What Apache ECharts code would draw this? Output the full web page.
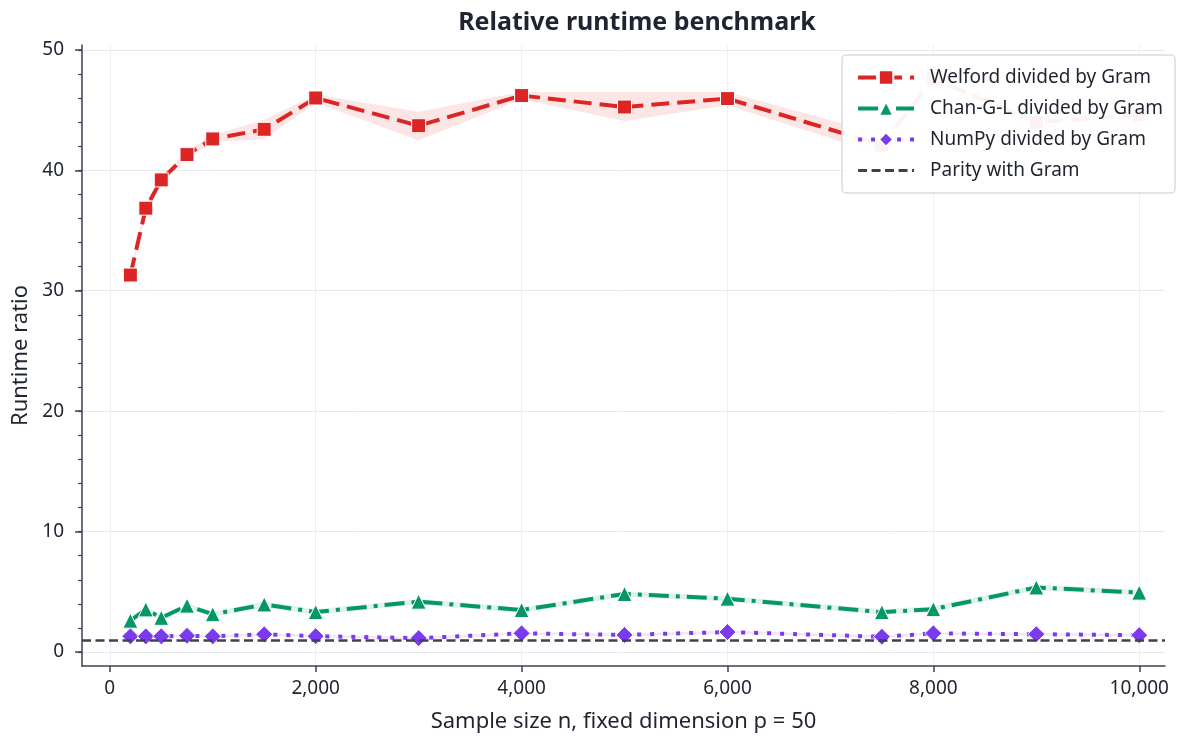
<!DOCTYPE html>
<html>
<head>
<meta charset="utf-8">
<script src="https://cdn.jsdelivr.net/npm/echarts@6/dist/echarts.min.js"></script>
<style>
  html, body { margin: 0; padding: 0; background: #ffffff; }
  #chart { width: 1179px; height: 738px; }
</style>
</head>
<body>
<div id="chart"></div>
<script>
// Sample sizes n (p = 50 fixed)
const sampleSizes = [200, 350, 500, 750, 1000, 1500, 2000, 3000, 4000, 5000, 6000, 7500, 8000, 9000, 10000];

// Runtime ratios relative to the Gram approach, with spread bands
const welford   = [31.3, 36.85, 39.2, 41.3, 42.6, 43.4, 46.0, 43.7, 46.2, 45.25, 45.95, 42.1, 47.6, 44.0, 44.6];
const welfordLo = [31.0, 36.5, 38.9, 41.0, 42.3, 42.6, 45.6, 42.5, 45.9, 44.1, 45.4, 41.3, 47.0, 43.3, 43.9];
const welfordHi = [31.6, 37.2, 39.5, 41.6, 42.9, 44.2, 46.3, 44.85, 46.5, 46.5, 46.5, 43.0, 48.3, 44.8, 45.3];

const chan   = [2.6, 3.54, 2.84, 3.85, 3.14, 3.95, 3.32, 4.18, 3.49, 4.82, 4.43, 3.31, 3.56, 5.36, 4.93];
const chanLo = [2.4, 3.3, 2.6, 3.6, 2.9, 3.7, 3.1, 3.95, 3.25, 4.6, 4.2, 3.1, 3.35, 5.1, 4.7];
const chanHi = [2.8, 3.75, 3.05, 4.05, 3.35, 4.2, 3.55, 4.4, 3.7, 5.05, 4.65, 3.55, 3.8, 5.6, 5.15];

const numpy   = [1.3, 1.3, 1.3, 1.35, 1.3, 1.47, 1.32, 1.15, 1.55, 1.42, 1.66, 1.27, 1.55, 1.48, 1.4];
const numpyLo = [1.2, 1.2, 1.2, 1.25, 1.2, 1.35, 1.22, 1.05, 1.45, 1.32, 1.54, 1.17, 1.45, 1.38, 1.3];
const numpyHi = [1.4, 1.4, 1.4, 1.45, 1.4, 1.58, 1.42, 1.25, 1.65, 1.52, 1.78, 1.37, 1.65, 1.58, 1.5];

const parity = 1;

const xTicks = [0, 2000, 4000, 6000, 8000, 10000];
const yTicks = [0, 10, 20, 30, 40, 50];
const yMinorTicks = [0, 2, 4, 6, 8, 10, 12, 14, 16, 18, 20, 22, 24, 26, 28, 30, 32, 34, 36, 38, 40, 42, 44, 46, 48, 50];

const seriesNames = ['Welford divided by Gram', 'Chan-G-L divided by Gram', 'NumPy divided by Gram', 'Parity with Gram'];

const FONT = '"Noto Sans", "Open Sans", sans-serif';
const RED = '#dc2626', GREEN = '#059669', PURPLE = '#7c3aed', SLATE = '#3d4250';
const INK = '#1f2430', AXIS = '#3a4152';

const pairs = (ys) => sampleSizes.map((x, i) => [x, ys[i]]);

// Shaded spread band drawn as a single polygon through the axis scales
function band(name, lo, hi, color, opacity) {
  return {
    type: 'custom',
    name: name,
    silent: true,
    z: 1,
    data: sampleSizes.map((x, i) => [x, lo[i], hi[i]]),
    encode: { x: 0, y: [1, 2] },
    renderItem: function (params, api) {
      if (params.dataIndex !== 0) return null;
      const pts = [];
      for (let i = 0; i < sampleSizes.length; i++) pts.push(api.coord([sampleSizes[i], hi[i]]));
      for (let i = sampleSizes.length - 1; i >= 0; i--) pts.push(api.coord([sampleSizes[i], lo[i]]));
      return { type: 'polygon', shape: { points: pts }, style: { fill: color, opacity: opacity } };
    }
  };
}

function lineSeries(name, ys, color, symbol, size, dash) {
  return {
    type: 'line',
    name: name,
    data: pairs(ys),
    z: 3,
    symbol: symbol,
    symbolSize: size,
    showAllSymbol: true,
    lineStyle: { color: color, width: 4, type: dash, cap: 'butt' },
    itemStyle: { color: color, borderColor: '#ffffff', borderWidth: 1, opacity: 1 },
    emphasis: { disabled: true }
  };
}

const chart = echarts.init(document.getElementById('chart'), null, { renderer: 'canvas' });

chart.setOption({
  animation: false,
  backgroundColor: '#ffffff',
  title: {
    text: 'Relative runtime benchmark',
    left: 632,
    top: 5,
    textAlign: 'center',
    textStyle: { fontFamily: FONT, fontSize: 25, fontWeight: 'bold', color: INK }
  },
  grid: { left: 82, right: 14, top: 45, bottom: 72, containLabel: false },
  legend: {
    data: [
      { name: seriesNames[0], lineStyle: { width: 4 } },
      { name: seriesNames[1], lineStyle: { width: 4 } },
      { name: seriesNames[2], lineStyle: { width: 4 } },
      { name: seriesNames[3], lineStyle: { width: 3 }, itemStyle: { color: 'rgba(0,0,0,0)', borderWidth: 0, opacity: 0 } }
    ],
    right: 4,
    top: 55,
    orient: 'vertical',
    align: 'left',
    itemWidth: 56,
    itemHeight: 18,
    itemGap: 12,
    padding: [13, 12, 13, 14],
    backgroundColor: 'rgba(255,255,255,0.94)',
    borderColor: '#d9dbe0',
    borderWidth: 1.5,
    borderRadius: 4,
    textStyle: { fontFamily: FONT, fontSize: 19, color: INK, padding: [0, 0, 0, 11] }
  },
  xAxis: {
    type: 'value',
    min: -270,
    max: 10250,
    name: 'Sample size n, fixed dimension p = 50',
    nameLocation: 'middle',
    nameGap: 45,
    nameTextStyle: { fontFamily: FONT, fontSize: 22, color: INK },
    axisLine: { show: true, onZero: false, lineStyle: { color: AXIS, width: 1.5 } },
    axisTick: { show: true, length: 6, customValues: xTicks, lineStyle: { color: AXIS, width: 1.5 } },
    axisLabel: {
      customValues: xTicks,
      margin: 13,
      fontFamily: FONT, fontSize: 19, color: INK,
      formatter: (v) => v.toLocaleString('en-US')
    },
    splitLine: { show: true, customValues: xTicks, lineStyle: { color: '#eef0f3', width: 1 } }
  },
  yAxis: [
    {
      type: 'value',
      min: -1.16,
      max: 50.4,
      name: 'Runtime ratio',
      nameLocation: 'middle',
      nameGap: 50,
      nameTextStyle: { fontFamily: FONT, fontSize: 22, color: INK },
      axisLine: { show: true, onZero: false, lineStyle: { color: AXIS, width: 1.5 } },
      axisTick: { show: true, length: 7, customValues: yTicks, lineStyle: { color: AXIS, width: 1.5 } },
      axisLabel: { customValues: yTicks, margin: 18, fontFamily: FONT, fontSize: 19, color: INK },
      splitLine: { show: true, customValues: yTicks, lineStyle: { color: '#e6e8ec', width: 1 } }
    },
    {
      // minor ticks every 2 units
      type: 'value',
      position: 'left',
      min: -1.16,
      max: 50.4,
      axisLine: { show: false, onZero: false },
      axisTick: { show: true, length: 4, customValues: yMinorTicks, lineStyle: { color: AXIS, width: 1.2 } },
      axisLabel: { show: false },
      splitLine: { show: false }
    }
  ],
  series: [
    band('Welford spread', welfordLo, welfordHi, RED, 0.12),
    band('Chan-G-L spread', chanLo, chanHi, GREEN, 0.12),
    band('NumPy spread', numpyLo, numpyHi, PURPLE, 0.12),
    lineSeries(seriesNames[0], welford, RED, 'rect', 14, [18, 8]),
    lineSeries(seriesNames[1], chan, GREEN, 'triangle', 15, [20, 7, 4, 7]),
    lineSeries(seriesNames[2], numpy, PURPLE, 'diamond', 17, [4, 9]),
    {
      type: 'line',
      name: seriesNames[3],
      data: [],
      symbol: 'none',
      z: 4,
      lineStyle: { color: SLATE, width: 2.5, type: [9, 4.5] },
      itemStyle: { color: SLATE },
      markLine: {
        silent: true,
        symbol: ['none', 'none'],
        label: { show: false },
        lineStyle: { color: SLATE, width: 2.5, type: [9, 4.5] },
        data: [{ yAxis: parity }]
      }
    }
  ]
});
</script>
</body>
</html>
